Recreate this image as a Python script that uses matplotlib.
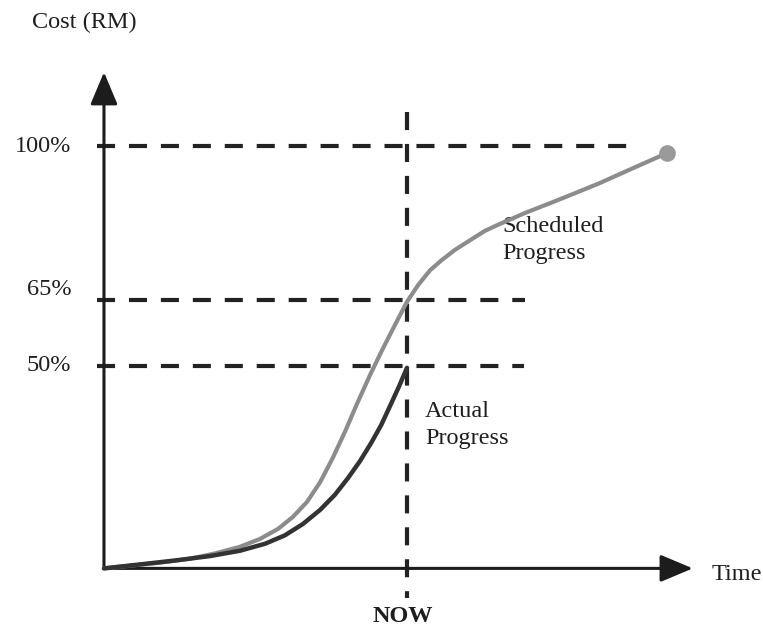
import matplotlib
matplotlib.use("Agg")
import matplotlib.pyplot as plt

# S-curve: scheduled vs actual progress (cost % against time)
sched_t = [0, 0.51, 1.11, 1.70, 2.20, 2.69, 3.09, 3.45, 3.74, 4.02, 4.28, 4.53,
           4.77, 5.01, 5.27, 5.52, 5.76, 6.00, 6.22, 6.46, 6.69, 6.95, 7.25,
           7.54, 7.84, 8.34, 8.83, 9.33, 9.82, 10.48, 11.15]
sched_v = [4, 4.6, 5.3, 6.2, 7.4, 8.9, 10.7, 13.0, 15.7, 19.1, 23.6, 29.1,
           35.0, 41.4, 48.0, 53.9, 59.3, 64.6, 68.4, 71.8, 74.1, 76.4, 78.6,
           80.7, 82.3, 84.8, 87.0, 89.3, 91.6, 95.0, 98.4]

actual_t = [0, 0.71, 1.41, 2.10, 2.69, 3.19, 3.58, 3.94, 4.28, 4.57, 4.83,
            5.07, 5.29, 5.49, 5.66, 5.84, 6.0]
actual_v = [4, 4.9, 5.8, 6.8, 8.0, 9.6, 11.5, 14.1, 17.3, 20.7, 24.5,
            28.4, 32.5, 36.6, 40.8, 45.3, 49.6]

levels = [100, 65, 50]
level_labels = ["100%", "65%", "50%"]
level_ends = [10.45, 8.34, 8.32]
now_t = 6.0
base = 4

plt.rcParams['font.family'] = ['Liberation Serif', 'DejaVu Serif']

fig = plt.figure(figsize=(7.63, 6.28), dpi=100)
ax = fig.add_axes([0, 0, 1, 1])
ax.set_xlim(-2.059, 13.05)
ax.set_ylim(-9.55, 133.2)
ax.axis('off')

dash_col = '#222222'
lw_d = 3.0
dash = (13 / lw_d, 10 / lw_d)

# dashed guide lines
for lv, end in zip(levels, level_ends):
    ax.plot([-0.14, end], [lv, lv], color=dash_col, lw=lw_d, dashes=dash,
            dash_capstyle='butt', zorder=2)
ax.plot([now_t, now_t], [107.7, -2.7], color=dash_col, lw=lw_d, dashes=dash,
        dash_capstyle='butt', zorder=2)

# axes with arrows
arrow = dict(arrowstyle='-|>,head_length=1.0,head_width=0.42', color='#1c1c1c',
             lw=2.2, shrinkA=0, shrinkB=0, mutation_scale=20)
ax.annotate('', xy=(0, 116.8), xytext=(0, base), arrowprops=arrow, zorder=3)
ax.annotate('', xy=(11.66, base), xytext=(0, base), arrowprops=arrow, zorder=3)

# curves
ax.plot(sched_t, sched_v, color='#8c8c8c', lw=3.0, solid_capstyle='round',
        solid_joinstyle='round', zorder=4)
ax.plot(actual_t, actual_v, color='#333333', lw=3.2, solid_capstyle='round',
        solid_joinstyle='round', zorder=5)
ax.plot(sched_t[-1], sched_v[-1], 'o', color='#9a9a9a', ms=11, zorder=6)

txt = '#1e1e1e'
fs = 17.5
for lab, lv, dy in zip(level_labels, levels, [0, 2.5, 0.2]):
    ax.text(-0.65, lv + dy, lab, ha='right', va='center', fontsize=fs, color=txt)

ax.text(-0.38, 128.2, "Cost (RM)", ha='center', va='center', fontsize=fs, color=txt)
ax.text(12.04, 2.5, "Time", ha='left', va='center', fontsize=fs, color=txt)
ax.text(5.92, -7.0, "NOW", ha='center', va='center', fontsize=fs, color=txt,
        fontweight='bold')
ax.text(7.88, 78.6, "Scheduled\nProgress", ha='left', va='center', fontsize=fs,
        color=txt, linespacing=1.35)
ax.text(6.36, 36.6, "Actual\nProgress", ha='left', va='center', fontsize=fs,
        color=txt, linespacing=1.35)

fig.savefig("out.png", dpi=100, facecolor='white')
